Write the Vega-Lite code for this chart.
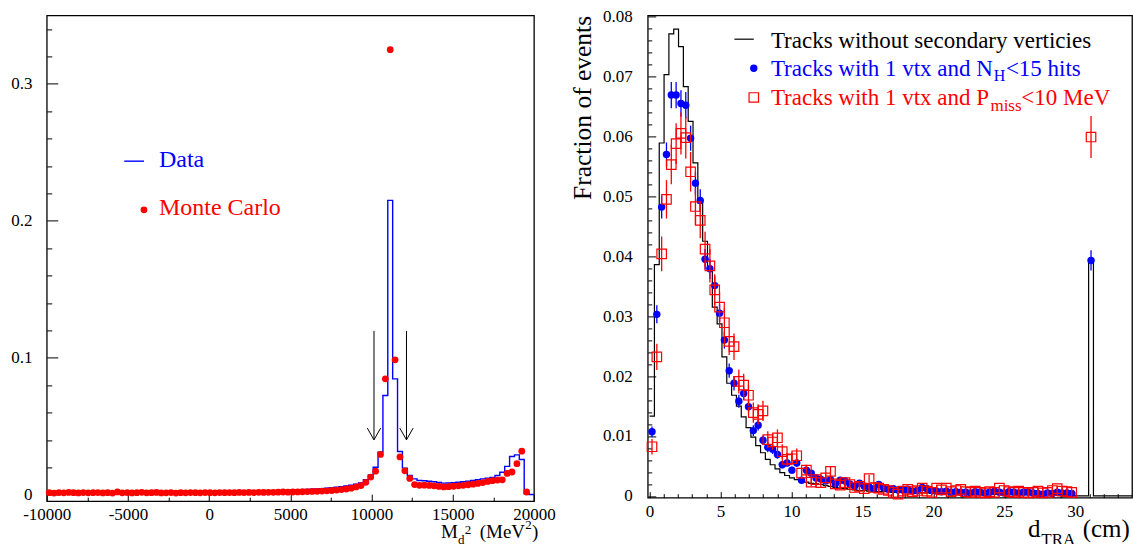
{
"$schema": "https://vega.github.io/schema/vega-lite/v6.json",
"padding": {"left": 9.75, "top": 6.4, "right": 0, "bottom": 0},
"bounds": "flush",
"spacing": 113,
"datasets": {
"left": [
{"lo":-10000,"x":-9850,"data":0.0017,"mc":0.0016},{"lo":-9700,"x":-9550,"data":0.0018,"mc":0.0013},{"lo":-9400,"x":-9250,"data":0.0017,"mc":0.0017},{"lo":-9100,"x":-8950,"data":0.0018,"mc":0.0015},{"lo":-8800,"x":-8650,"data":0.0017,"mc":0.0018},{"lo":-8500,"x":-8350,"data":0.0018,"mc":0.0016},{"lo":-8200,"x":-8050,"data":0.0018,"mc":0.0014},{"lo":-7900,"x":-7750,"data":0.0017,"mc":0.0017},{"lo":-7600,"x":-7450,"data":0.0018,"mc":0.0015},{"lo":-7300,"x":-7150,"data":0.0018,"mc":0.0016},
{"lo":-7000,"x":-6850,"data":0.0018,"mc":0.0017},{"lo":-6700,"x":-6550,"data":0.0019,"mc":0.0014},{"lo":-6400,"x":-6250,"data":0.0018,"mc":0.0016},{"lo":-6100,"x":-5950,"data":0.0019,"mc":0.0013},{"lo":-5800,"x":-5650,"data":0.0018,"mc":0.0022},{"lo":-5500,"x":-5350,"data":0.0019,"mc":0.0015},{"lo":-5200,"x":-5050,"data":0.0019,"mc":0.0017},{"lo":-4900,"x":-4750,"data":0.0018,"mc":0.0014},{"lo":-4600,"x":-4450,"data":0.0019,"mc":0.0016},{"lo":-4300,"x":-4150,"data":0.0019,"mc":0.0019},
{"lo":-4000,"x":-3850,"data":0.0019,"mc":0.0015},{"lo":-3700,"x":-3550,"data":0.0020,"mc":0.0016},{"lo":-3400,"x":-3250,"data":0.0019,"mc":0.0018},{"lo":-3100,"x":-2950,"data":0.0020,"mc":0.0014},{"lo":-2800,"x":-2650,"data":0.0020,"mc":0.0015},{"lo":-2500,"x":-2350,"data":0.0019,"mc":0.0017},{"lo":-2200,"x":-2050,"data":0.0020,"mc":0.0013},{"lo":-1900,"x":-1750,"data":0.0020,"mc":0.0016},{"lo":-1600,"x":-1450,"data":0.0021,"mc":0.0015},{"lo":-1300,"x":-1150,"data":0.0020,"mc":0.0017},
{"lo":-1000,"x":-850,"data":0.0021,"mc":0.0016},{"lo":-700,"x":-550,"data":0.0021,"mc":0.0015},{"lo":-400,"x":-250,"data":0.0021,"mc":0.0017},{"lo":-100,"x":50,"data":0.0022,"mc":0.0016},{"lo":200,"x":350,"data":0.0022,"mc":0.0015},{"lo":500,"x":650,"data":0.0022,"mc":0.0017},{"lo":800,"x":950,"data":0.0023,"mc":0.0016},{"lo":1100,"x":1250,"data":0.0023,"mc":0.0017},{"lo":1400,"x":1550,"data":0.0024,"mc":0.0016},{"lo":1700,"x":1850,"data":0.0024,"mc":0.0018},
{"lo":2000,"x":2150,"data":0.0025,"mc":0.0017},{"lo":2300,"x":2450,"data":0.0025,"mc":0.0018},{"lo":2600,"x":2750,"data":0.0026,"mc":0.0017},{"lo":2900,"x":3050,"data":0.0027,"mc":0.0019},{"lo":3200,"x":3350,"data":0.0027,"mc":0.0018},{"lo":3500,"x":3650,"data":0.0028,"mc":0.0019},{"lo":3800,"x":3950,"data":0.0029,"mc":0.0019},{"lo":4100,"x":4250,"data":0.0030,"mc":0.0020},{"lo":4400,"x":4550,"data":0.0031,"mc":0.0021},{"lo":4700,"x":4850,"data":0.0032,"mc":0.0020},
{"lo":5000,"x":5150,"data":0.0034,"mc":0.0021},{"lo":5300,"x":5450,"data":0.0035,"mc":0.0022},{"lo":5600,"x":5750,"data":0.0037,"mc":0.0023},{"lo":5900,"x":6050,"data":0.0039,"mc":0.0024},{"lo":6200,"x":6350,"data":0.0041,"mc":0.0025},{"lo":6500,"x":6650,"data":0.0043,"mc":0.0026},{"lo":6800,"x":6950,"data":0.0046,"mc":0.0028},{"lo":7100,"x":7250,"data":0.0049,"mc":0.0030},{"lo":7400,"x":7550,"data":0.0052,"mc":0.0032},{"lo":7700,"x":7850,"data":0.0056,"mc":0.0035},
{"lo":8000,"x":8150,"data":0.0060,"mc":0.0039},{"lo":8300,"x":8450,"data":0.0065,"mc":0.0043},{"lo":8600,"x":8750,"data":0.0071,"mc":0.0049},{"lo":8900,"x":9050,"data":0.0078,"mc":0.0058},{"lo":9200,"x":9350,"data":0.0087,"mc":0.0068},{"lo":9500,"x":9650,"data":0.0110,"mc":0.0092},{"lo":9800,"x":9950,"data":0.0145,"mc":0.0130},{"lo":10100,"x":10250,"data":0.0202,"mc":0.0173},{"lo":10400,"x":10550,"data":0.0312,"mc":0.0295},{"lo":10700,"x":10850,"data":0.0725,"mc":0.0847},
{"lo":11000,"x":11150,"data":0.2150,"mc":0.3250},{"lo":11300,"x":11450,"data":0.0847,"mc":0.0986},{"lo":11600,"x":11750,"data":0.0317,"mc":0.0277},{"lo":11900,"x":12050,"data":0.0195,"mc":0.0176},{"lo":12200,"x":12350,"data":0.0142,"mc":0.0120},{"lo":12500,"x":12650,"data":0.0117,"mc":0.0075},{"lo":12800,"x":12950,"data":0.0105,"mc":0.0070},{"lo":13100,"x":13250,"data":0.0103,"mc":0.0071},{"lo":13400,"x":13550,"data":0.0100,"mc":0.0069},{"lo":13700,"x":13850,"data":0.0096,"mc":0.0066},
{"lo":14000,"x":14150,"data":0.0090,"mc":0.0062},{"lo":14300,"x":14450,"data":0.0086,"mc":0.0058},{"lo":14600,"x":14750,"data":0.0087,"mc":0.0060},{"lo":14900,"x":15050,"data":0.0089,"mc":0.0063},{"lo":15200,"x":15350,"data":0.0092,"mc":0.0066},{"lo":15500,"x":15650,"data":0.0096,"mc":0.0070},{"lo":15800,"x":15950,"data":0.0100,"mc":0.0074},{"lo":16100,"x":16250,"data":0.0105,"mc":0.0078},{"lo":16400,"x":16550,"data":0.0110,"mc":0.0084},{"lo":16700,"x":16850,"data":0.0117,"mc":0.0090},
{"lo":17000,"x":17150,"data":0.0122,"mc":0.0098},{"lo":17300,"x":17450,"data":0.0128,"mc":0.0104},{"lo":17600,"x":17750,"data":0.0142,"mc":0.0108},{"lo":17900,"x":18050,"data":0.0165,"mc":0.0110},{"lo":18200,"x":18350,"data":0.0208,"mc":0.0157},{"lo":18500,"x":18650,"data":0.0280,"mc":0.0167},{"lo":18800,"x":18950,"data":0.0292,"mc":0.0228},{"lo":19100,"x":19250,"data":0.0258,"mc":0.0319},{"lo":19400,"x":19550,"data":0.0008,"mc":0.0021},{"lo":19700,"x":19850,"data":0.0003},
{"lo":20000,"data":0.0003}
],
"arrows": [{"ax":10150,"ytop":0.1197,"ybot":0.0402},{"ax":12150,"ytop":0.1197,"ybot":0.0402}],
"right": [
{"lo":0,"d":0.17,"black":0.0133,"blue":0.0107,"eb":0.0009,"red":0.0082,"er":0.0013},
{"lo":0.34,"d":0.51,"black":0.0386,"blue":0.0303,"eb":0.0015,"red":0.0232,"er":0.0022},
{"lo":0.68,"d":0.85,"black":0.0589,"blue":0.0482,"eb":0.0019,"red":0.0404,"er":0.0029},
{"lo":1.02,"d":1.19,"black":0.0703,"blue":0.0570,"eb":0.0020,"red":0.0495,"er":0.0032},
{"lo":1.36,"d":1.53,"black":0.0771,"blue":0.0669,"eb":0.0022,"red":0.0553,"er":0.0033},
{"lo":1.70,"d":1.87,"black":0.0779,"blue":0.0669,"eb":0.0022,"red":0.0588,"er":0.0034},
{"lo":2.04,"d":2.21,"black":0.0750,"blue":0.0655,"eb":0.0022,"red":0.0605,"er":0.0035},
{"lo":2.38,"d":2.55,"black":0.0683,"blue":0.0652,"eb":0.0022,"red":0.0598,"er":0.0035},
{"lo":2.72,"d":2.89,"black":0.0625,"blue":0.0597,"eb":0.0021,"red":0.0541,"er":0.0033},
{"lo":3.06,"d":3.23,"black":0.0556,"blue":0.0522,"eb":0.0019,"red":0.0483,"er":0.0031},
{"lo":3.40,"d":3.57,"black":0.0489,"blue":0.0493,"eb":0.0019,"red":0.0460,"er":0.0030},
{"lo":3.74,"d":3.91,"black":0.0425,"blue":0.0395,"eb":0.0017,"red":0.0412,"er":0.0029},
{"lo":4.08,"d":4.25,"black":0.0379,"blue":0.0379,"eb":0.0017,"red":0.0384,"er":0.0028},
{"lo":4.42,"d":4.59,"black":0.0315,"blue":0.0351,"eb":0.0016,"red":0.0344,"er":0.0026},
{"lo":4.76,"d":4.93,"black":0.0287,"blue":0.0305,"eb":0.0015,"red":0.0315,"er":0.0025},
{"lo":5.10,"d":5.27,"black":0.0232,"blue":0.0260,"eb":0.0014,"red":0.0289,"er":0.0024},
{"lo":5.44,"d":5.61,"black":0.0188,"blue":0.0209,"eb":0.0012,"red":0.0258,"er":0.0023},
{"lo":5.78,"d":5.95,"black":0.0168,"blue":0.0188,"eb":0.0012,"red":0.0249,"er":0.0022},
{"lo":6.12,"d":6.29,"black":0.0150,"blue":0.0158,"eb":0.0011,"red":0.0191,"er":0.0020},
{"lo":6.46,"d":6.63,"black":0.0132,"blue":0.0171,"eb":0.0011,"red":0.0185,"er":0.0019},
{"lo":6.80,"d":6.97,"black":0.0114,"blue":0.0149,"eb":0.0010,"red":0.0168,"er":0.0018},
{"lo":7.14,"d":7.31,"black":0.0098,"blue":0.0109,"eb":0.0009,"red":0.0139,"er":0.0017},
{"lo":7.48,"d":7.65,"black":0.0084,"blue":0.0118,"eb":0.0009,"red":0.0136,"er":0.0017},
{"lo":7.82,"d":7.99,"black":0.0072,"blue":0.0093,"eb":0.0008,"red":0.0142,"er":0.0017},
{"lo":8.16,"d":8.33,"black":0.0061,"blue":0.0081,"eb":0.0008,"red":0.0094,"er":0.0014},
{"lo":8.50,"d":8.67,"black":0.0052,"blue":0.0078,"eb":0.0008,"red":0.0090,"er":0.0013},
{"lo":8.84,"d":9.01,"black":0.0045,"blue":0.0069,"eb":0.0007,"red":0.0097,"er":0.0014},
{"lo":9.18,"d":9.35,"black":0.0039,"blue":0.0052,"eb":0.0006,"red":0.0074,"er":0.0012},
{"lo":9.52,"d":9.69,"black":0.0034,"blue":0.0055,"eb":0.0006,"red":0.0061,"er":0.0011},
{"lo":9.86,"d":10.03,"black":0.0030,"blue":0.0043,"eb":0.0006,"red":0.0062,"er":0.0011},
{"lo":10.20,"d":10.37,"black":0.0027,"blue":0.0055,"eb":0.0006,"red":0.0067,"er":0.0012},
{"lo":10.54,"d":10.71,"black":0.0025,"blue":0.0026,"eb":0.0004,"red":0.0038,"er":0.0009},
{"lo":10.88,"d":11.05,"black":0.0023,"blue":0.0043,"eb":0.0006,"red":0.0043,"er":0.0009},
{"lo":11.22,"d":11.39,"black":0.0021,"blue":0.0038,"eb":0.0005,"red":0.0023,"er":0.0007},
{"lo":11.56,"d":11.73,"black":0.0020,"blue":0.0030,"eb":0.0005,"red":0.0027,"er":0.0007},
{"lo":11.90,"d":12.07,"black":0.0019,"blue":0.0028,"eb":0.0005,"red":0.0022,"er":0.0007},
{"lo":12.24,"d":12.41,"black":0.0017,"blue":0.0025,"eb":0.0005,"red":0.0030,"er":0.0008},
{"lo":12.58,"d":12.75,"black":0.0016,"blue":0.0027,"eb":0.0005,"red":0.0041,"er":0.0009},
{"lo":12.92,"d":13.09,"black":0.0014,"blue":0.0020,"eb":0.0005,"red":0.0020,"er":0.0006},
{"lo":13.26,"d":13.43,"black":0.0013,"blue":0.0026,"eb":0.0005,"red":0.0018,"er":0.0006},
{"lo":13.60,"d":13.77,"black":0.0012,"blue":0.0025,"eb":0.0005,"red":0.0022,"er":0.0006},
{"lo":13.94,"d":14.11,"black":0.0011,"blue":0.0020,"eb":0.0004,"red":0.0019,"er":0.0006},
{"lo":14.28,"d":14.45,"black":0.0010,"blue":0.0016,"eb":0.0004,"red":0.0014,"er":0.0006},
{"lo":14.62,"d":14.79,"black":0.0009,"blue":0.0021,"eb":0.0004,"red":0.0016,"er":0.0006},
{"lo":14.96,"d":15.13,"black":0.0009,"blue":0.0016,"eb":0.0004,"red":0.0012,"er":0.0006},
{"lo":15.30,"d":15.47,"black":0.0008,"blue":0.0015,"eb":0.0004,"red":0.0029,"er":0.0006},
{"lo":15.64,"d":15.81,"black":0.0008,"blue":0.0012,"eb":0.0004,"red":0.0014,"er":0.0005},
{"lo":15.98,"d":16.15,"black":0.0007,"blue":0.0019,"eb":0.0004,"red":0.0013,"er":0.0005},
{"lo":16.32,"d":16.49,"black":0.0007,"blue":0.0013,"eb":0.0004,"red":0.0011,"er":0.0005},
{"lo":16.66,"d":16.83,"black":0.0007,"blue":0.0011,"eb":0.0004,"red":0.0009,"er":0.0005},
{"lo":17.00,"d":17.17,"black":0.0006,"blue":0.0012,"eb":0.0004,"red":0.0006,"er":0.0005},
{"lo":17.34,"d":17.51,"black":0.0006,"blue":0.0010,"eb":0.0003,"red":0.0003,"er":0.0005},
{"lo":17.68,"d":17.85,"black":0.0006,"blue":0.0010,"eb":0.0003,"red":0.0008,"er":0.0005},
{"lo":18.02,"d":18.19,"black":0.0005,"blue":0.0011,"eb":0.0003,"red":0.0011,"er":0.0005},
{"lo":18.36,"d":18.53,"black":0.0005,"blue":0.0008,"eb":0.0003,"red":0.0007,"er":0.0005},
{"lo":18.70,"d":18.87,"black":0.0005,"blue":0.0009,"eb":0.0003,"red":0.0009,"er":0.0005},
{"lo":19.04,"d":19.21,"black":0.0005,"blue":0.0014,"eb":0.0003,"red":0.0013,"er":0.0005},
{"lo":19.38,"d":19.55,"black":0.0005,"blue":0.0012,"eb":0.0003,"red":0.0008,"er":0.0005},
{"lo":19.72,"d":19.89,"black":0.0004,"blue":0.0009,"eb":0.0003,"red":0.0006,"er":0.0005},
{"lo":20.06,"d":20.23,"black":0.0004,"blue":0.0008,"eb":0.0003,"red":0.0013,"er":0.0005},
{"lo":20.40,"d":20.57,"black":0.0004,"blue":0.0007,"eb":0.0003,"red":0.0010,"er":0.0005},
{"lo":20.74,"d":20.91,"black":0.0004,"blue":0.0008,"eb":0.0003,"red":0.0013,"er":0.0004},
{"lo":21.08,"d":21.25,"black":0.0004,"blue":0.0006,"eb":0.0003,"red":0.0007,"er":0.0004},
{"lo":21.42,"d":21.59,"black":0.0003,"blue":0.0007,"eb":0.0003,"red":0.0009,"er":0.0004},
{"lo":21.76,"d":21.93,"black":0.0004,"blue":0.0006,"eb":0.0003,"red":0.0011,"er":0.0004},
{"lo":22.10,"d":22.27,"black":0.0003,"blue":0.0006,"eb":0.0003,"red":0.0007,"er":0.0004},
{"lo":22.44,"d":22.61,"black":0.0003,"blue":0.0005,"eb":0.0003,"red":0.0006,"er":0.0004},
{"lo":22.78,"d":22.95,"black":0.0004,"blue":0.0007,"eb":0.0003,"red":0.0008,"er":0.0004},
{"lo":23.12,"d":23.29,"black":0.0003,"blue":0.0006,"eb":0.0003,"red":0.0006,"er":0.0004},
{"lo":23.46,"d":23.63,"black":0.0003,"blue":0.0005,"eb":0.0003,"red":0.0005,"er":0.0004},
{"lo":23.80,"d":23.97,"black":0.0003,"blue":0.0006,"eb":0.0003,"red":0.0007,"er":0.0004},
{"lo":24.14,"d":24.31,"black":0.0003,"blue":0.0008,"eb":0.0003,"red":0.0006,"er":0.0004},
{"lo":24.48,"d":24.65,"black":0.0003,"blue":0.0006,"eb":0.0003,"red":0.0013,"er":0.0004},
{"lo":24.82,"d":24.99,"black":0.0003,"blue":0.0005,"eb":0.0003,"red":0.0009,"er":0.0004},
{"lo":25.16,"d":25.33,"black":0.0002,"blue":0.0007,"eb":0.0003,"red":0.0007,"er":0.0004},
{"lo":25.50,"d":25.67,"black":0.0003,"blue":0.0006,"eb":0.0003,"red":0.0006,"er":0.0004},
{"lo":25.84,"d":26.01,"black":0.0003,"blue":0.0005,"eb":0.0003,"red":0.0008,"er":0.0004},
{"lo":26.18,"d":26.35,"black":0.0002,"blue":0.0006,"eb":0.0003,"red":0.0006,"er":0.0004},
{"lo":26.52,"d":26.69,"black":0.0003,"blue":0.0006,"eb":0.0003,"red":0.0005,"er":0.0004},
{"lo":26.86,"d":27.03,"black":0.0002,"blue":0.0005,"eb":0.0003,"red":0.0006,"er":0.0004},
{"lo":27.20,"d":27.37,"black":0.0002,"blue":0.0004,"eb":0.0003,"red":0.0008,"er":0.0004},
{"lo":27.54,"d":27.71,"black":0.0003,"blue":0.0003,"eb":0.0003,"red":0.0005,"er":0.0004},
{"lo":27.88,"d":28.05,"black":0.0002,"blue":0.0005,"eb":0.0003,"red":0.0006,"er":0.0004},
{"lo":28.22,"d":28.39,"black":0.0002,"blue":0.0004,"eb":0.0003,"red":0.0009,"er":0.0004},
{"lo":28.56,"d":28.73,"black":0.0002,"blue":0.0006,"eb":0.0003,"red":0.0012,"er":0.0004},
{"lo":28.90,"d":29.07,"black":0.0002,"blue":0.0005,"eb":0.0003,"red":0.0008,"er":0.0004},
{"lo":29.24,"d":29.41,"black":0.0002,"blue":0.0005,"eb":0.0003,"red":0.0007,"er":0.0004},
{"lo":29.58,"d":29.75,"black":0.0002,"blue":0.0004,"eb":0.0003,"red":0.0006,"er":0.0004},
{"lo":29.92,"black":0},
{"lo":30.26,"black":0},
{"lo":30.60,"black":0},
{"lo":30.94,"d":31.11,"black":0.0393,"blue":0.0393,"eb":0.0017,"red":0.0599,"er":0.0035},
{"lo":31.28,"black":0},
{"lo":31.62,"black":0},
{"lo":31.96,"black":0},
{"lo":32.30,"black":0},
{"lo":32.64,"black":0},
{"lo":32.98,"black":0},
{"lo":33.32,"black":0},
{"lo":33.66,"black":0},
{"lo":34,"black":0}
]
},
"hconcat": [
{
"width": 487.2,
"height": 485.8,
"resolve": {"axis": {"x": "independent", "y": "independent"}},
"layer": [
{
"data": {"name": "left"},
"mark": {"type": "line", "interpolate": "step-after", "color": "#0000ff", "strokeWidth": 1.4},
"encoding": {
"x": {"field": "lo", "type": "quantitative", "scale": {"domain": [-10000, 20000], "nice": false, "zero": false},
"axis": {"orient": "bottom", "values": [-10000, -5000, 0, 5000, 10000, 15000, 20000], "ticks": false, "tickSize": 0, "labelPadding": 5, "labelExpr": "'' + datum.value", "title": null}},
"y": {"field": "data", "type": "quantitative", "scale": {"domain": [-0.0046, 0.35], "nice": false, "zero": false},
"axis": {"orient": "left", "values": [0, 0.1, 0.2, 0.3], "ticks": false, "tickSize": 0, "labelPadding": 14.7, "labelExpr": "'' + datum.value", "title": null}}
}
},
{
"data": {"name": "left"},
"transform": [{"filter": "isValid(datum.mc)"}],
"mark": {"type": "point", "filled": true, "shape": "circle", "size": 46, "color": "#ff0000", "opacity": 1},
"encoding": {
"x": {"field": "x", "type": "quantitative", "scale": {"domain": [-10000, 20000], "nice": false, "zero": false},
"axis": {"orient": "bottom", "values": [-10000, -5000, 0, 5000, 10000, 15000, 20000], "tickSize": -7, "labels": false, "title": null}},
"y": {"field": "mc", "type": "quantitative", "scale": {"domain": [-0.0046, 0.35], "nice": false, "zero": false},
"axis": {"orient": "left", "values": [0, 0.1, 0.2, 0.3], "tickSize": -11, "labels": false, "title": null}}
}
},
{
"data": {"name": "arrows"},
"mark": {"type": "rule", "color": "black", "strokeWidth": 1},
"encoding": {
"x": {"field": "ax", "type": "quantitative", "scale": {"domain": [-10000, 20000], "nice": false, "zero": false},
"axis": {"orient": "bottom", "values": [-7500, -2500, 2500, 7500, 12500, 17500], "tickSize": -4, "labels": false, "title": null}},
"y": {"field": "ytop", "type": "quantitative", "scale": {"domain": [-0.0046, 0.35], "nice": false, "zero": false},
"axis": {"orient": "left", "values": [0.02, 0.04, 0.06, 0.08, 0.12, 0.14, 0.16, 0.18, 0.22, 0.24, 0.26, 0.28, 0.32, 0.34], "tickSize": -5, "labels": false, "title": null}},
"y2": {"field": "ybot"}
}
},
{
"data": {"name": "arrows"},
"mark": {"type": "point", "shape": "M-0.57,-1L0,0L0.57,-1", "size": 547, "filled": false, "stroke": "black", "strokeWidth": 1, "opacity": 1},
"encoding": {
"x": {"field": "ax", "type": "quantitative", "scale": {"domain": [-10000, 20000], "nice": false, "zero": false}, "axis": null},
"y": {"field": "ybot", "type": "quantitative", "scale": {"domain": [-0.0046, 0.35], "nice": false, "zero": false}, "axis": null}
}
},
{
"data": {"values": [{}]},
"mark": {"type": "rule", "color": "#0000ff", "strokeWidth": 1.4},
"encoding": {
"x": {"datum": -5228, "type": "quantitative", "scale": {"domain": [-10000, 20000], "nice": false, "zero": false}, "axis": null},
"x2": {"datum": -4014},
"y": {"datum": 0.2436, "type": "quantitative", "scale": {"domain": [-0.0046, 0.35], "nice": false, "zero": false}, "axis": null}
}
},
{
"data": {"values": [{}]},
"mark": {"type": "point", "filled": true, "shape": "circle", "size": 46, "color": "#ff0000", "opacity": 1},
"encoding": {
"x": {"datum": -4014, "type": "quantitative", "scale": {"domain": [-10000, 20000], "nice": false, "zero": false}, "axis": null},
"y": {"datum": 0.2081, "type": "quantitative", "scale": {"domain": [-0.0046, 0.35], "nice": false, "zero": false}, "axis": null}
}
},
{
"data": {"values": [{}]},
"mark": {"type": "text", "text": "Data", "font": "Liberation Serif", "fontSize": 24, "color": "#0000ff", "align": "left", "baseline": "alphabetic"},
"encoding": {
"x": {"datum": -3091, "type": "quantitative", "scale": {"domain": [-10000, 20000], "nice": false, "zero": false}, "axis": null},
"y": {"datum": 0.2390, "type": "quantitative", "scale": {"domain": [-0.0046, 0.35], "nice": false, "zero": false}, "axis": null}
}
},
{
"data": {"values": [{}]},
"mark": {"type": "text", "text": "Monte Carlo", "font": "Liberation Serif", "fontSize": 24, "color": "#ff0000", "align": "left", "baseline": "alphabetic"},
"encoding": {
"x": {"datum": -3091, "type": "quantitative", "scale": {"domain": [-10000, 20000], "nice": false, "zero": false}, "axis": null},
"y": {"datum": 0.2043, "type": "quantitative", "scale": {"domain": [-0.0046, 0.35], "nice": false, "zero": false}, "axis": null}
}
},
{
"data": {"values": [{}]},
"mark": {"type": "text", "text": "M", "font": "Liberation Serif", "fontSize": 19, "color": "black", "align": "left", "baseline": "alphabetic"},
"encoding": {
"x": {"datum": 14281, "type": "quantitative", "scale": {"domain": [-10000, 20000], "nice": false, "zero": false}, "axis": null},
"y": {"datum": -0.0318, "type": "quantitative", "scale": {"domain": [-0.0046, 0.35], "nice": false, "zero": false}, "axis": null}
}
},
{
"data": {"values": [{}]},
"mark": {"type": "text", "text": "d", "font": "Liberation Serif", "fontSize": 13, "color": "black", "align": "left", "baseline": "alphabetic"},
"encoding": {
"x": {"datum": 15328, "type": "quantitative", "scale": {"domain": [-10000, 20000], "nice": false, "zero": false}, "axis": null},
"y": {"datum": -0.0355, "type": "quantitative", "scale": {"domain": [-0.0046, 0.35], "nice": false, "zero": false}, "axis": null}
}
},
{
"data": {"values": [{}]},
"mark": {"type": "text", "text": "2", "font": "Liberation Serif", "fontSize": 13, "color": "black", "align": "left", "baseline": "alphabetic"},
"encoding": {
"x": {"datum": 15734, "type": "quantitative", "scale": {"domain": [-10000, 20000], "nice": false, "zero": false}, "axis": null},
"y": {"datum": -0.0289, "type": "quantitative", "scale": {"domain": [-0.0046, 0.35], "nice": false, "zero": false}, "axis": null}
}
},
{
"data": {"values": [{}]},
"mark": {"type": "text", "text": "(MeV", "font": "Liberation Serif", "fontSize": 19, "color": "black", "align": "left", "baseline": "alphabetic"},
"encoding": {
"x": {"datum": 16658, "type": "quantitative", "scale": {"domain": [-10000, 20000], "nice": false, "zero": false}, "axis": null},
"y": {"datum": -0.0318, "type": "quantitative", "scale": {"domain": [-0.0046, 0.35], "nice": false, "zero": false}, "axis": null}
}
},
{
"data": {"values": [{}]},
"mark": {"type": "text", "text": "2", "font": "Liberation Serif", "fontSize": 13, "color": "black", "align": "left", "baseline": "alphabetic"},
"encoding": {
"x": {"datum": 19470, "type": "quantitative", "scale": {"domain": [-10000, 20000], "nice": false, "zero": false}, "axis": null},
"y": {"datum": -0.0252, "type": "quantitative", "scale": {"domain": [-0.0046, 0.35], "nice": false, "zero": false}, "axis": null}
}
},
{
"data": {"values": [{}]},
"mark": {"type": "text", "text": ")", "font": "Liberation Serif", "fontSize": 19, "color": "black", "align": "left", "baseline": "alphabetic"},
"encoding": {
"x": {"datum": 19885, "type": "quantitative", "scale": {"domain": [-10000, 20000], "nice": false, "zero": false}, "axis": null},
"y": {"datum": -0.0318, "type": "quantitative", "scale": {"domain": [-0.0046, 0.35], "nice": false, "zero": false}, "axis": null}
}
}
]
},
{
"width": 484.3,
"height": 482.3,
"resolve": {"axis": {"x": "independent", "y": "independent"}},
"layer": [
{
"data": {"name": "right"},
"mark": {"type": "line", "interpolate": "step-after", "color": "black", "strokeWidth": 1.2},
"encoding": {
"x": {"field": "lo", "type": "quantitative", "scale": {"domain": [-0.13, 34], "nice": false, "zero": false},
"axis": {"orient": "bottom", "values": [0, 5, 10, 15, 20, 25, 30], "ticks": false, "tickSize": 0, "labelPadding": 5.7, "labelExpr": "'' + datum.value", "title": null}},
"y": {"field": "black", "type": "quantitative", "scale": {"domain": [-0.0003, 0.0802], "nice": false, "zero": false},
"axis": {"orient": "left", "values": [0, 0.01, 0.02, 0.03, 0.04, 0.05, 0.06, 0.07, 0.08], "ticks": false, "tickSize": 0, "labelPadding": 15.4, "labelExpr": "'' + datum.value",
"title": "Fraction of events", "titleFont": "Liberation Serif", "titleFontSize": 25.5, "titleFontWeight": "normal", "titleColor": "black", "titleAnchor": "end", "titlePadding": 7}}
}
},
{
"data": {"name": "right"},
"transform": [{"filter": "isValid(datum.blue)"}],
"mark": {"type": "errorbar", "color": "#0000ff", "thickness": 1.3},
"encoding": {
"x": {"field": "d", "type": "quantitative", "scale": {"domain": [-0.13, 34], "nice": false, "zero": false}, "axis": null},
"y": {"field": "blue", "type": "quantitative", "scale": {"domain": [-0.0003, 0.0802], "nice": false, "zero": false}, "axis": null},
"yError": {"field": "eb"}
}
},
{
"data": {"name": "right"},
"transform": [{"filter": "isValid(datum.blue)"}],
"mark": {"type": "point", "filled": true, "shape": "circle", "size": 55, "color": "#0000ff", "opacity": 1},
"encoding": {
"x": {"field": "d", "type": "quantitative", "scale": {"domain": [-0.13, 34], "nice": false, "zero": false},
"axis": {"orient": "bottom", "values": [0, 5, 10, 15, 20, 25, 30], "tickSize": -6, "labels": false, "title": null}},
"y": {"field": "blue", "type": "quantitative", "scale": {"domain": [-0.0003, 0.0802], "nice": false, "zero": false},
"axis": {"orient": "left", "values": [0, 0.01, 0.02, 0.03, 0.04, 0.05, 0.06, 0.07, 0.08], "tickSize": -8, "labels": false, "title": null}}
}
},
{
"data": {"name": "right"},
"transform": [{"filter": "isValid(datum.red)"}],
"mark": {"type": "errorbar", "color": "#ff0000", "thickness": 1.3},
"encoding": {
"x": {"field": "d", "type": "quantitative", "scale": {"domain": [-0.13, 34], "nice": false, "zero": false}, "axis": null},
"y": {"field": "red", "type": "quantitative", "scale": {"domain": [-0.0003, 0.0802], "nice": false, "zero": false}, "axis": null},
"yError": {"field": "er"}
}
},
{
"data": {"name": "right"},
"transform": [{"filter": "isValid(datum.red)"}],
"mark": {"type": "point", "filled": false, "shape": "square", "size": 90, "color": "#ff0000", "strokeWidth": 1.2, "opacity": 1},
"encoding": {
"x": {"field": "d", "type": "quantitative", "scale": {"domain": [-0.13, 34], "nice": false, "zero": false},
"axis": {"orient": "bottom", "values": [1, 2, 3, 4, 6, 7, 8, 9, 11, 12, 13, 14, 16, 17, 18, 19, 21, 22, 23, 24, 26, 27, 28, 29, 31, 32, 33], "tickSize": -4, "labels": false, "title": null}},
"y": {"field": "red", "type": "quantitative", "scale": {"domain": [-0.0003, 0.0802], "nice": false, "zero": false},
"axis": {"orient": "left", "values": [0.002, 0.004, 0.006, 0.008, 0.012, 0.014, 0.016, 0.018, 0.022, 0.024, 0.026, 0.028, 0.032, 0.034, 0.036, 0.038, 0.042, 0.044, 0.046, 0.048, 0.052, 0.054, 0.056, 0.058, 0.062, 0.064, 0.066, 0.068, 0.072, 0.074, 0.076, 0.078], "tickSize": -4, "labels": false, "title": null}}
}
},
{
"data": {"values": [{}]},
"mark": {"type": "rule", "color": "black", "strokeWidth": 1.2},
"encoding": {
"x": {"datum": 5.976, "type": "quantitative", "scale": {"domain": [-0.13, 34], "nice": false, "zero": false}, "axis": null},
"x2": {"datum": 7.343},
"y": {"datum": 0.07623, "type": "quantitative", "scale": {"domain": [-0.0003, 0.0802], "nice": false, "zero": false}, "axis": null}
}
},
{
"data": {"values": [{}]},
"mark": {"type": "point", "filled": true, "shape": "circle", "size": 55, "color": "#0000ff", "opacity": 1},
"encoding": {
"x": {"datum": 7.343, "type": "quantitative", "scale": {"domain": [-0.13, 34], "nice": false, "zero": false}, "axis": null},
"y": {"datum": 0.07137, "type": "quantitative", "scale": {"domain": [-0.0003, 0.0802], "nice": false, "zero": false}, "axis": null}
}
},
{
"data": {"values": [{}]},
"mark": {"type": "point", "filled": false, "shape": "square", "size": 90, "color": "#ff0000", "strokeWidth": 1.2, "opacity": 1},
"encoding": {
"x": {"datum": 7.343, "type": "quantitative", "scale": {"domain": [-0.13, 34], "nice": false, "zero": false}, "axis": null},
"y": {"datum": 0.0665, "type": "quantitative", "scale": {"domain": [-0.0003, 0.0802], "nice": false, "zero": false}, "axis": null}
}
},
{
"data": {"values": [{}]},
"mark": {"type": "text", "text": "Tracks without secondary verticies", "font": "Liberation Serif", "fontSize": 23, "color": "black", "align": "left", "baseline": "alphabetic"},
"encoding": {
"x": {"datum": 8.548, "type": "quantitative", "scale": {"domain": [-0.13, 34], "nice": false, "zero": false}, "axis": null},
"y": {"datum": 0.07484, "type": "quantitative", "scale": {"domain": [-0.0003, 0.0802], "nice": false, "zero": false}, "axis": null}
}
},
{
"data": {"values": [{}]},
"mark": {"type": "text", "text": "Tracks with 1 vtx and N", "font": "Liberation Serif", "fontSize": 23, "color": "#0000ff", "align": "left", "baseline": "alphabetic"},
"encoding": {
"x": {"datum": 8.548, "type": "quantitative", "scale": {"domain": [-0.13, 34], "nice": false, "zero": false}, "axis": null},
"y": {"datum": 0.07015, "type": "quantitative", "scale": {"domain": [-0.0003, 0.0802], "nice": false, "zero": false}, "axis": null}
}
},
{
"data": {"values": [{}]},
"mark": {"type": "text", "text": "H", "font": "Liberation Serif", "fontSize": 16, "color": "#0000ff", "align": "left", "baseline": "alphabetic"},
"encoding": {
"x": {"datum": 24.26, "type": "quantitative", "scale": {"domain": [-0.13, 34], "nice": false, "zero": false}, "axis": null},
"y": {"datum": 0.06917, "type": "quantitative", "scale": {"domain": [-0.0003, 0.0802], "nice": false, "zero": false}, "axis": null}
}
},
{
"data": {"values": [{}]},
"mark": {"type": "text", "text": "<15 hits", "font": "Liberation Serif", "fontSize": 23, "color": "#0000ff", "align": "left", "baseline": "alphabetic"},
"encoding": {
"x": {"datum": 25.11, "type": "quantitative", "scale": {"domain": [-0.13, 34], "nice": false, "zero": false}, "axis": null},
"y": {"datum": 0.07015, "type": "quantitative", "scale": {"domain": [-0.0003, 0.0802], "nice": false, "zero": false}, "axis": null}
}
},
{
"data": {"values": [{}]},
"mark": {"type": "text", "text": "Tracks with 1 vtx and P", "font": "Liberation Serif", "fontSize": 23, "color": "#ff0000", "align": "left", "baseline": "alphabetic"},
"encoding": {
"x": {"datum": 8.548, "type": "quantitative", "scale": {"domain": [-0.13, 34], "nice": false, "zero": false}, "axis": null},
"y": {"datum": 0.0653, "type": "quantitative", "scale": {"domain": [-0.0003, 0.0802], "nice": false, "zero": false}, "axis": null}
}
},
{
"data": {"values": [{}]},
"mark": {"type": "text", "text": "miss", "font": "Liberation Serif", "fontSize": 17, "color": "#ff0000", "align": "left", "baseline": "alphabetic"},
"encoding": {
"x": {"datum": 24.02, "type": "quantitative", "scale": {"domain": [-0.13, 34], "nice": false, "zero": false}, "axis": null},
"y": {"datum": 0.06425, "type": "quantitative", "scale": {"domain": [-0.0003, 0.0802], "nice": false, "zero": false}, "axis": null}
}
},
{
"data": {"values": [{}]},
"mark": {"type": "text", "text": "<10 MeV", "font": "Liberation Serif", "fontSize": 23, "color": "#ff0000", "align": "left", "baseline": "alphabetic"},
"encoding": {
"x": {"datum": 26.2, "type": "quantitative", "scale": {"domain": [-0.13, 34], "nice": false, "zero": false}, "axis": null},
"y": {"datum": 0.0653, "type": "quantitative", "scale": {"domain": [-0.0003, 0.0802], "nice": false, "zero": false}, "axis": null}
}
},
{
"data": {"values": [{}]},
"mark": {"type": "text", "text": "d", "font": "Liberation Serif", "fontSize": 25, "color": "black", "align": "left", "baseline": "alphabetic"},
"encoding": {
"x": {"datum": 26.66, "type": "quantitative", "scale": {"domain": [-0.13, 34], "nice": false, "zero": false}, "axis": null},
"y": {"datum": -0.00694, "type": "quantitative", "scale": {"domain": [-0.0003, 0.0802], "nice": false, "zero": false}, "axis": null}
}
},
{
"data": {"values": [{}]},
"mark": {"type": "text", "text": "TRA", "font": "Liberation Serif", "fontSize": 17, "color": "black", "align": "left", "baseline": "alphabetic"},
"encoding": {
"x": {"datum": 27.61, "type": "quantitative", "scale": {"domain": [-0.13, 34], "nice": false, "zero": false}, "axis": null},
"y": {"datum": -0.00827, "type": "quantitative", "scale": {"domain": [-0.0003, 0.0802], "nice": false, "zero": false}, "axis": null}
}
},
{
"data": {"values": [{}]},
"mark": {"type": "text", "text": "(cm)", "font": "Liberation Serif", "fontSize": 25, "color": "black", "align": "left", "baseline": "alphabetic"},
"encoding": {
"x": {"datum": 30.52, "type": "quantitative", "scale": {"domain": [-0.13, 34], "nice": false, "zero": false}, "axis": null},
"y": {"datum": -0.00694, "type": "quantitative", "scale": {"domain": [-0.0003, 0.0802], "nice": false, "zero": false}, "axis": null}
}
}
]
}
],
"config": {
"font": "Liberation Serif",
"background": "white",
"view": {"stroke": "black", "strokeWidth": 1.3},
"axis": {"domain": false, "grid": false, "labelFont": "Liberation Serif", "labelFontSize": 17, "labelColor": "black", "tickColor": "black", "tickWidth": 1, "labelFlush": false, "labelOverlap": false, "labelBound": false}
}
}
